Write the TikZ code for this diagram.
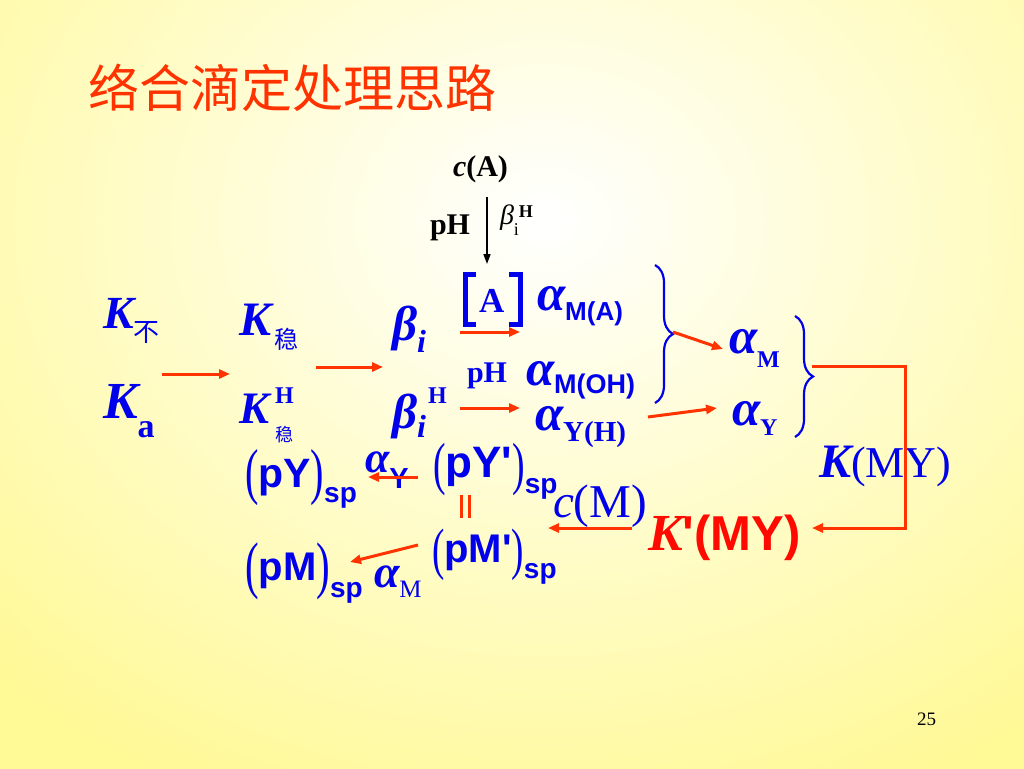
\documentclass[tikz,border=0pt]{standalone}
\usepackage{fontspec}
\usepackage{graphicx}
\setmainfont{Liberation Serif}
\newfontfamily\arialf[Ligatures=TeXOff]{Liberation Sans}
\newfontfamily\cjkf{Noto Sans CJK SC}
\usetikzlibrary{arrows.meta,decorations.pathreplacing}
\definecolor{bgY}{RGB}{255,249,150}
\definecolor{bl}{RGB}{0,0,235}
\definecolor{ar}{RGB}{255,51,0}
\definecolor{rd}{RGB}{255,10,0}
\newcommand\myfs[1]{\fontsize{#1}{#1}\selectfont}
\newcommand\nlp[2]{\raisebox{#2}{\scalebox{0.65}[1]{\rmfamily\mdseries\myfs{#1}(}}}
\newcommand\nrp[2]{\raisebox{#2}{\scalebox{0.65}[1]{\rmfamily\mdseries\myfs{#1})}}}
\begin{document}
\begin{tikzpicture}[x=1pt,y=-1pt,
 txt/.style={inner sep=0pt,outer sep=0pt,anchor=base west,text=bl},
 rarrow/.style={draw=ar,line width=3pt,-{Triangle[length=11pt,width=9pt]}},
 barrow/.style={draw=black,line width=1.6pt,-{Triangle[length=10pt,width=7pt]}},
 bracebl/.style={draw=bl,line width=2.2pt,decorate,decoration={brace,amplitude=18pt}},
 brk/.style={draw=bl,line width=5pt}]
\useasboundingbox (0,0) rectangle (1024,768);
\fill[bgY] (-4,-4) rectangle (1028,772);
\begin{scope}
\clip (-4,-4) rectangle (1028,772);
\shade[inner color=white, outer color=bgY] (545,220) ellipse (780 and 640);
\end{scope}

% title
\node[txt,anchor=west,text=ar] (title) at (88,88) {\cjkf\myfs{51}络合滴定处理思路};

% top black part
\node[txt,text=black] (cA) at (453,176) {\myfs{30}\bfseries\textit{c}(A)};
\node[txt,text=black] (pHk) at (430,234) {\myfs{30}\bfseries pH};
\node[txt,text=black] (bHk) at (500,224) {\myfs{28}\itshape β\upshape\raisebox{-11pt}{\myfs{18}i}\raisebox{7pt}{\myfs{18}\bfseries H}};
\coordinate (vA1) at (487,197);
\coordinate (vA2) at (487,264);
\draw[barrow] (vA1) -- (vA2);

% left column
\node[txt] (Kbu) at (103,328) {\myfs{46}\bfseries\itshape K\upshape\mdseries\raisebox{-13pt}{\cjkf\myfs{26}不}};
\node[txt] (Ka) at (103,418) {\myfs{52}\bfseries\itshape K\upshape\raisebox{-19pt}{\myfs{34}a}};
\node[txt] (Kw) at (239,335) {\myfs{48}\bfseries\itshape K\upshape\mdseries\hspace{3pt}\raisebox{-13pt}{\cjkf\myfs{24}稳}};
\node[txt] (KH) at (239,423) {\myfs{45}\bfseries\itshape K\upshape\hspace{6pt}\rlap{\raisebox{20pt}{\myfs{24}H}}\mdseries\raisebox{-18pt}{\cjkf\myfs{18}稳}};
\node[txt] (bi) at (392,340) {\myfs{49}\bfseries\itshape β\raisebox{-12pt}{\myfs{32}i}};
\node[txt] (biH) at (392,428) {\myfs{49}\bfseries\itshape β\rlap{\raisebox{-9pt}{\myfs{32}i}}\upshape\hspace{11pt}\raisebox{25pt}{\myfs{24}H}};

% [A] and alphas
\node[txt] (A) at (479,312) {\myfs{35}\bfseries A};
\draw[brk] (476,274) -- (465,274) -- (465,324) -- (476,324);
\draw[brk] (509,274) -- (520,274) -- (520,324) -- (509,324);
\node[txt] (aMA) at (537,310) {\myfs{51}\bfseries\itshape α\upshape\raisebox{-10pt}{\arialf\myfs{26}M(A)}};
\node[txt] (pHb) at (467,382) {\myfs{30}\bfseries pH};
\node[txt] (aMOH) at (526,385) {\myfs{51}\bfseries\itshape α\upshape\raisebox{-8pt}{\arialf\myfs{27}M(OH)}};
\node[txt] (aYH) at (535,430) {\myfs{51}\bfseries\itshape α\upshape\raisebox{-11pt}{\myfs{29}Y(H)}};
\node[txt] (aM) at (729,353) {\myfs{51}\bfseries\itshape α\upshape\raisebox{-14pt}{\myfs{24}M}};
\node[txt] (aY) at (732,425) {\myfs{51}\bfseries\itshape α\upshape\raisebox{-10pt}{\myfs{24}Y}};
\draw[bracebl] (655,265) -- (655,403);
\draw[bracebl] (795,316) -- (795,437);

% right
\node[txt] (KMY) at (819,477) {\myfs{48}\bfseries\itshape K\upshape\mdseries\myfs{44}(MY)};
\node[txt] (cM) at (553,517) {\myfs{47}\itshape c\upshape(M)};
\node[txt,text=rd] (KpMY) at (648,550) {\myfs{52}\bfseries\itshape K\upshape\arialf\myfs{49}'(MY)};

% bottom
\node[txt] (pYp) at (433,477) {\nlp{58}{-6pt}{\arialf\bfseries\myfs{44}pY'}\nrp{58}{-6pt}\raisebox{-16pt}{\arialf\bfseries\myfs{28}sp}};
\node[txt] (pY) at (245,487) {\nlp{62}{-5pt}{\arialf\bfseries\myfs{41}pY}\nrp{62}{-5pt}\raisebox{-15pt}{\arialf\bfseries\myfs{28}sp}};
\node[txt] (pMp) at (432,562) {\nlp{57}{-6pt}{\arialf\bfseries\myfs{40}pM'}\nrp{57}{-6pt}\raisebox{-16pt}{\arialf\bfseries\myfs{28}sp}};
\node[txt] (pM) at (245,580) {\nlp{63}{-6pt}{\arialf\bfseries\myfs{40}pM}\nrp{63}{-6pt}\raisebox{-17pt}{\arialf\bfseries\myfs{28}sp}};
\node[txt] (aYs) at (365,472) {\myfs{44}\bfseries\itshape α\upshape\raisebox{-16pt}{\arialf\myfs{29}Y}};
\node[txt] (aMs) at (374,587) {\myfs{46}\bfseries\itshape α\upshape\mdseries\raisebox{-10pt}{\myfs{25}M}};
\draw[ar,line width=3pt] (461,495) -- (461,518) (469,495) -- (469,518);

\node[txt,text=black] (pg) at (917,725) {\myfs{19}25};

% red arrows
\coordinate (r1a) at (162,374); \coordinate (r1b) at (230,374);
\coordinate (r2a) at (316,367); \coordinate (r2b) at (383,367);
\coordinate (r3a) at (460,332); \coordinate (r3b) at (520,332);
\coordinate (r4a) at (460,408); \coordinate (r4b) at (520,408);
\coordinate (r5a) at (673,332); \coordinate (r5b) at (723,349);
\coordinate (r6a) at (648,417); \coordinate (r6b) at (717,408);
\coordinate (r7a) at (812,366); \coordinate (r7b) at (905,366);
\coordinate (r7c) at (905,528); \coordinate (r7d) at (812,528);
\coordinate (r8a) at (632,528); \coordinate (r8b) at (548,528);
\coordinate (r9a) at (418,477); \coordinate (r9b) at (368,477);
\coordinate (r10a) at (418,545); \coordinate (r10b) at (350,562);
\draw[rarrow] (r1a) -- (r1b);
\draw[rarrow] (r2a) -- (r2b);
\draw[rarrow] (r3a) -- (r3b);
\draw[rarrow] (r4a) -- (r4b);
\draw[rarrow] (r5a) -- (r5b);
\draw[rarrow] (r6a) -- (r6b);
\draw[rarrow,line join=miter] (r7a) -- (r7b) -- (r7c) -- (r7d);
\draw[rarrow] (r8a) -- (r8b);
\draw[rarrow] (r9a) -- (r9b);
\draw[rarrow] (r10a) -- (r10b);
\end{tikzpicture}
\end{document}
